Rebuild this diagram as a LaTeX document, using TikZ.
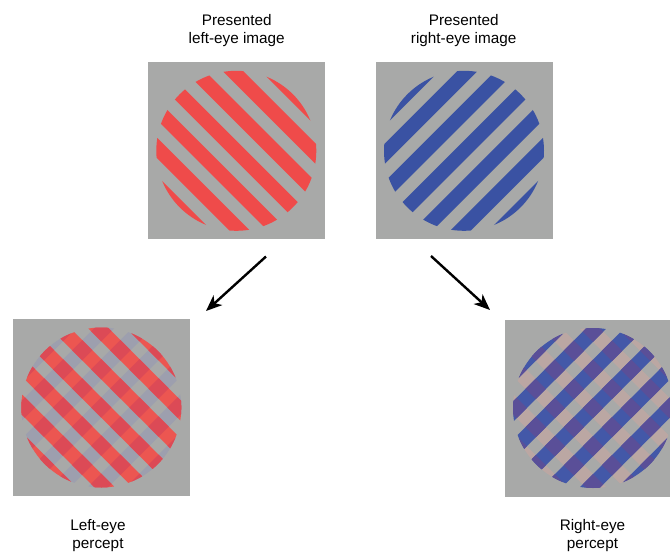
\documentclass[tikz,border=0pt]{standalone}
\usepackage{fontspec}
\setmainfont{Liberation Sans}
\usetikzlibrary{arrows.meta}
\definecolor{bggray}{HTML}{A8A9A8}
\definecolor{stripered}{HTML}{EF4B4A}
\definecolor{stripeblue}{HTML}{3A52A3}
\definecolor{lpred}{HTML}{EC5651}
\definecolor{lpblue}{HTML}{9D9FAE}
\definecolor{lpmix}{HTML}{DC4A56}
\definecolor{rpblue}{HTML}{4358A8}
\definecolor{rppink}{HTML}{BBA7A3}
\definecolor{rpmix}{HTML}{5A4F98}
\tikzset{
  imgbox/.style={fill=bggray, draw=none, minimum size=177pt, inner sep=0pt, outer sep=0pt},
  label/.style={font=\fontsize{15.3}{18}\selectfont, anchor=base, inner sep=0pt, text=black},
  arr/.style={line width=2.4pt, -{Stealth[length=16pt,width=13pt,inset=4.5pt]}},
}
% stripes: rotate=-45 gives "\" stripes, rotate=45 gives "/" stripes
\newcommand{\stripesfill}[2]{%
  \fill[#1, rotate=#2] foreach \k in {-3,...,3} {(-110,{\k*27-7.2}) rectangle (110,{\k*27+7.2})};}
\newcommand{\stripesclip}[1]{%
  \clip[rotate=#1] foreach \k in {-3,...,3} {(-110,{\k*27-7.2}) rectangle (110,{\k*27+7.2})};}
\begin{document}
\begin{tikzpicture}[x=1pt,y=-1pt]
\useasboundingbox (0,0) rectangle (670,552);
\clip (0,0) rectangle (670,552);

% image boxes
\node[imgbox] (tl) at (236,150.5) {};
\node[imgbox] (tr) at (464,150.5) {};
\node[imgbox] (bl) at (101.5,407.5) {};
\node[imgbox] (br) at (593.5,408) {};

% presented left-eye image
\begin{scope}[shift={(236.3,150.8)}]
  \clip (0,0) circle (80);
  \stripesfill{stripered}{-45}
\end{scope}

% presented right-eye image
\begin{scope}[shift={(464,150.8)}]
  \clip (0,0) circle (80);
  \stripesfill{stripeblue}{45}
\end{scope}

% left-eye percept
\begin{scope}[shift={(101.3,407.5)}]
  \clip (0,0) circle (80);
  \stripesfill{lpblue}{45}
  \stripesfill{lpred}{-45}
  \begin{scope}
    \stripesclip{-45}
    \stripesfill{lpmix}{45}
  \end{scope}
\end{scope}

% right-eye percept
\begin{scope}[shift={(593,408)}]
  \clip (0,0) circle (80);
  \stripesfill{rppink}{-45}
  \stripesfill{rpblue}{45}
  \begin{scope}
    \stripesclip{45}
    \stripesfill{rpmix}{-45}
  \end{scope}
\end{scope}

% labels
\node[label] (t1a) at (236.7,25) {Presented};
\node[label] (t1b) at (236.7,43) {left-eye image};
\node[label] (t2a) at (463.7,25) {Presented};
\node[label] (t2b) at (463.7,43) {right-eye image};
\node[label] (b1a) at (98,530) {Left-eye};
\node[label] (b1b) at (98,548) {percept};
\node[label] (b2a) at (592.5,530) {Right-eye};
\node[label] (b2b) at (592.5,548) {percept};

% arrows
\coordinate (a1s) at (266,256.5);
\coordinate (a1e) at (206,311);
\coordinate (a2s) at (431,256);
\coordinate (a2e) at (490,310);
\draw[arr] (a1s) -- (a1e);
\draw[arr] (a2s) -- (a2e);
\end{tikzpicture}
\end{document}
